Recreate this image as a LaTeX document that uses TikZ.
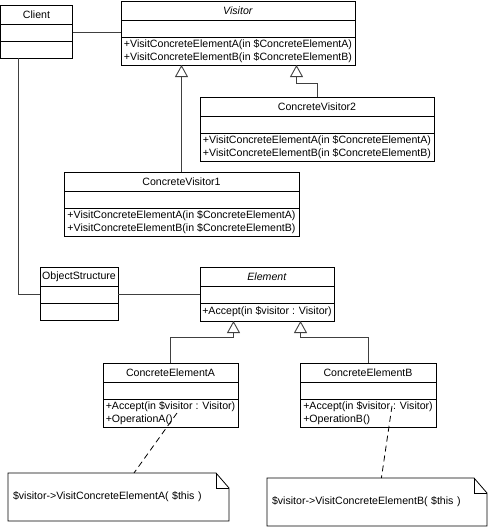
\documentclass[tikz,border=0pt]{standalone}
\usepackage{fontspec}
\setmainfont{Liberation Sans}
\usepackage{tikz}
\usetikzlibrary{arrows.meta, positioning, calc}

\begin{document}
\begin{tikzpicture}[x=1pt, y=-1pt, font=\fontsize{10.6}{13}\selectfont,
    head/.style={rectangle, draw=black, line width=0.8pt, outer sep=0pt, inner sep=1pt,
      minimum height=19pt},
    attr/.style={head, minimum height=17pt},
    ops/.style={head, align=left, minimum height=28pt},
    note/.style={rectangle, align=left, inner xsep=5pt, inner ysep=0pt, minimum height=48pt,
      outer sep=0pt},
    gen/.style={-{Triangle[open, length=12pt, width=13pt]}, line width=0.9pt, draw=black!75},
    assoc/.style={line width=0.9pt, draw=black!75},
    link/.style={dash pattern=on 6pt off 4pt, line width=0.8pt}]

    \useasboundingbox (0,0) rectangle (488,527);

    % Client and Visitor
    \node[head, minimum width=72pt, anchor=north west] (client) at (0.5,5) {Client};
    \node[attr, minimum width=72pt, below=0pt of client] (clientattr) {};
    \node[attr, minimum width=72pt, below=0pt of clientattr] (clientops) {};

    \node[head, minimum width=234pt, anchor=north west] (visitor) at (121,1) {\textit{Visitor}};
    \node[attr, minimum width=234pt, below=0pt of visitor] (visitorattr) {};
    \node[ops, minimum width=234pt, below=0pt of visitorattr] (visitorops)
      {+VisitConcreteElementA(in \$ConcreteElementA)\\+VisitConcreteElementB(in \$ConcreteElementB)};

    % Concrete visitors
    \node[head, minimum width=234pt, anchor=north west] (cv2) at (200,97) {ConcreteVisitor2};
    \node[attr, minimum width=234pt, below=0pt of cv2] (cv2attr) {};
    \node[ops, minimum width=234pt, below=0pt of cv2attr] (cv2ops)
      {+VisitConcreteElementA(in \$ConcreteElementA)\\+VisitConcreteElementB(in \$ConcreteElementB)};

    \node[head, minimum width=235pt, anchor=north west] (cv1) at (64,172) {ConcreteVisitor1};
    \node[attr, minimum width=235pt, below=0pt of cv1] (cv1attr) {};
    \node[ops, minimum width=235pt, below=0pt of cv1attr] (cv1ops)
      {+VisitConcreteElementA(in \$ConcreteElementA)\\+VisitConcreteElementB(in \$ConcreteElementB)};

    % ObjectStructure and Element
    \node[head, minimum width=78pt, anchor=north west] (os) at (40,267) {ObjectStructure};
    \node[attr, minimum width=78pt, below=0pt of os] (osattr) {};
    \node[attr, minimum width=78pt, below=0pt of osattr] (osops) {};

    \node[head, minimum width=134pt, anchor=north west] (element) at (200,267) {\textit{Element}};
    \node[attr, minimum width=134pt, below=0pt of element] (elementattr) {};
    \node[ops, minimum width=134pt, minimum height=18pt, below=0pt of elementattr] (elementops)
      {+Accept(in \$visitor : Visitor)};

    % Concrete elements
    \node[head, minimum width=135pt, anchor=north west] (cea) at (103,363) {ConcreteElementA};
    \node[attr, minimum width=135pt, below=0pt of cea] (ceaattr) {};
    \node[ops, minimum width=135pt, below=0pt of ceaattr] (ceaops)
      {+Accept(in \$visitor : Visitor)\\+OperationA()\hspace*{60pt}};

    \node[head, minimum width=136pt, anchor=north west] (ceb) at (300,363) {ConcreteElementB};
    \node[attr, minimum width=136pt, below=0pt of ceb] (cebattr) {};
    \node[ops, minimum width=136pt, below=0pt of cebattr] (cebops)
      {+Accept(in \$visitor : Visitor)\\+OperationB()\hspace*{60pt}};

    % Notes
    \node[note, text width=211pt, anchor=north west] (noteA) at (8,473)
      {\$visitor->VisitConcreteElementA( \$this )};
    \node[note, text width=210pt, anchor=north west] (noteB) at (267,478)
      {\$visitor->VisitConcreteElementB( \$this )};
    \foreach \n in {noteA, noteB} {
      \draw[line width=0.8pt] (\n.north west) -- ($(\n.north east)+(-13,0)$)
        -- ($(\n.north east)+(0,15)$) -- (\n.south east) -- (\n.south west) -- cycle;
      \draw[line width=0.8pt] ($(\n.north east)+(-13,0)$) -- ++(0,15) -- ++(13,0);
    }

    % Associations
    \draw[assoc] (clientattr.east) -- (clientattr.east -| visitor.west);
    \draw[assoc] ($(clientops.south west)!0.25!(clientops.south east)$) |- (osattr.west);
    \draw[assoc] (osattr.east) -- (osattr.east -| element.west);

    % Generalizations
    \draw[gen] (cv1.north) -- (cv1.north |- visitorops.south);
    \draw[gen] (cv2.north) -- ++(0,-14) -| ($(visitorops.south west)!0.75!(visitorops.south east)$);
    \draw[gen] (cea.north) -- ++(0,-26) -| ($(elementops.south west)!0.25!(elementops.south east)$);
    \draw[gen] (ceb.north) -- ++(0,-26) -| ($(elementops.south west)!0.75!(elementops.south east)$);

    % Note links
    \coordinate (opA) at (177,413);
    \coordinate (opB) at (392,406);
    \draw[link] (opA) -- ($(noteA.north west)!0.57!(noteA.north east)$);
    \draw[link] (opB) -- ($(noteB.north west)!0.52!(noteB.north east)$);
\end{tikzpicture}
\end{document}
